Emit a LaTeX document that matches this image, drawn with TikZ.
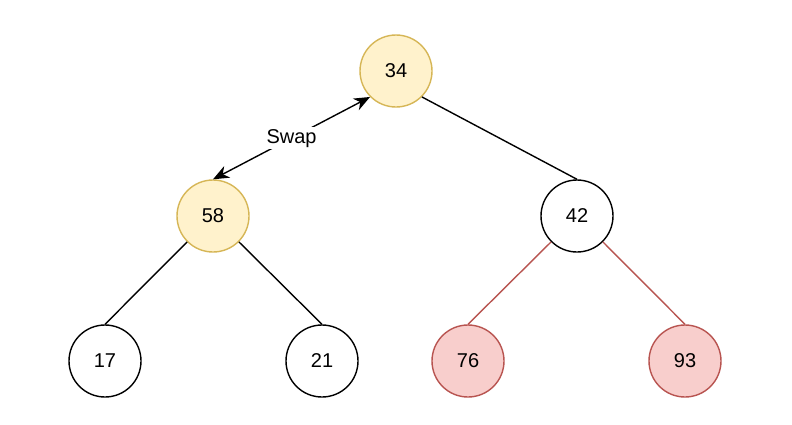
\documentclass[tikz,border=0pt]{standalone}
\usepackage{fontspec}
\setmainfont{Liberation Sans}
\usetikzlibrary{arrows.meta}
\definecolor{yelfill}{HTML}{FFF2CC}
\definecolor{yelline}{HTML}{D6B656}
\definecolor{redfill}{HTML}{F8CECC}
\definecolor{redline}{HTML}{B85450}
\tikzset{
  heapnode/.style={circle, draw=black, fill=white, line width=1.4pt,
    minimum size=72pt, inner sep=0pt, font=\fontsize{20}{24}\selectfont},
  swapped/.style={heapnode, draw=yelline, fill=yelfill},
  marked/.style={heapnode, draw=redline, fill=redfill},
  treeedge/.style={line width=1.4pt, draw=black},
  markededge/.style={line width=1.4pt, draw=redline},
  swaparrow/.style={line width=1.4pt, draw=black,
    {Stealth[length=16pt,width=13pt,inset=5pt]}-{Stealth[length=16pt,width=13pt,inset=5pt]}}
}
\begin{document}
\begin{tikzpicture}[x=1pt, y=-1pt]
  \useasboundingbox (0,0) rectangle (792,424);
  \fill[white] (0,0) rectangle (792,424);

  % tree nodes
  \node[swapped] (n34) at (396,71)  {34};
  \node[swapped] (n58) at (213,216) {58};
  \node[heapnode] (n42) at (577,216) {42};
  \node[heapnode] (n17) at (105,361) {17};
  \node[heapnode] (n21) at (322,361) {21};
  \node[marked] (n76) at (468,361) {76};
  \node[marked] (n93) at (685,361) {93};

  % tree edges
  \draw[treeedge] (n34.-45) -- (n42.north);
  \draw[treeedge] (n58.-135) -- (n17.north);
  \draw[treeedge] (n58.-45) -- (n21.north);
  \draw[markededge] (n42.-135) -- (n76.north);
  \draw[markededge] (n42.-45) -- (n93.north);

  % swap indicator
  \draw[swaparrow] (n34.-135) -- node[fill=white, inner sep=2pt,
    font=\fontsize{20}{24}\selectfont] (swaplbl) {Swap} (n58.north);
\end{tikzpicture}
\end{document}
